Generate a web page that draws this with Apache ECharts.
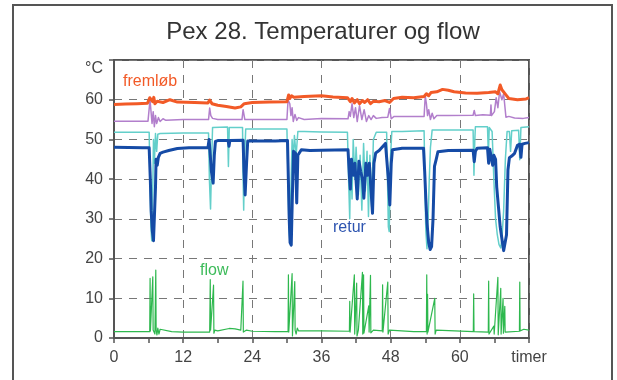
<!DOCTYPE html>
<html>
<head>
<meta charset="utf-8">
<script src="https://cdn.jsdelivr.net/npm/echarts@6/dist/echarts.min.js"></script>
<style>html,body{margin:0;padding:0;background:#fff;}#c{width:617px;height:380px;}</style>
</head>
<body>
<div id="c"></div>
<script>
// Time in hours ("timer"), values in °C or flow
const xTicks = [0, 12, 24, 36, 48, 60, 72];
const yTicks = [0, 10, 20, 30, 40, 50, 60, 70];

const fremlob = [[0,58.8],[2,58.9],[4,59],[5.8,59.1],[6.2,60.5],[6.5,60.8],[6.7,59.5],[6.9,60.6],[7.1,59],[7.5,59.6],[8.5,59.3],[9.7,60],[11,59.4],[14,59.3],[16.3,59.2],[16.6,59.9],[17,59],[18,58.6],[19.5,58.3],[21,57.9],[22,58.2],[22.6,59],[24,59.3],[27,59.4],[30,59.5],[30.3,61.2],[30.5,60.3],[30.8,61],[31.2,60.6],[33,60.8],[36,61],[38,60.7],[40.5,60.5],[41,59.5],[41.3,60.3],[41.7,59.2],[42.2,60],[42.6,59],[43.1,59.8],[43.5,59.3],[44,60],[44.5,59],[45,59.6],[46,59.5],[47,59.8],[47.8,59.3],[48.5,60.3],[50,60.6],[52,60.5],[53.8,60.8],[54.2,61.5],[54.6,61],[55,61.8],[56,62],[57,62.6],[58,62.4],[59,62],[61,61.7],[63,61.6],[65,61.8],[66.2,62],[66.6,61.5],[67,63.7],[67.3,62.5],[67.6,63],[68,61.2],[68.5,60.3],[70,60],[71.5,60.2],[72,60.5]];

const tempLilla = [[0,54.6],[5.9,54.6],[6.1,55],[6.25,60],[6.45,59.5],[6.6,54],[6.8,57],[7.0,53.2],[7.2,56],[7.4,54],[7.7,55.5],[8,54.5],[8.5,55.2],[9,54.8],[12,55],[16.4,55],[16.6,57.9],[16.8,56],[17.1,55.3],[18,55],[22.2,55],[22.4,57.5],[22.7,55],[24,55],[30,55],[30.2,60],[30.5,59],[30.7,56],[30.9,58],[31.1,54.5],[31.4,56.3],[31.7,54.8],[32,55.5],[33,55],[36,55.3],[40.6,55.2],[40.8,57],[41,55.8],[41.3,59],[41.6,55.5],[41.9,58],[42.2,54.5],[42.6,58.5],[43,55],[43.4,57.5],[43.8,54.5],[44.2,56],[44.6,55],[45,56],[45.5,55.3],[46.5,55.5],[47.5,55.6],[47.8,57.8],[48.1,55.2],[48.6,55.8],[50,55.8],[53.8,55.8],[54,61],[54.2,59],[54.4,56],[54.6,57.5],[54.9,55],[55.2,56.6],[55.5,55.2],[56,56],[58,56],[62.3,56.1],[62.5,57.3],[62.7,56],[64,56.2],[65.3,56.1],[65.4,58.7],[65.5,56],[66,57],[66.3,60.5],[66.6,58],[66.9,62],[67.3,60],[67.6,61.5],[68,55.6],[68.5,55.8],[69.5,55.4],[71,55.3],[72,55.5]];

const tempTurkis = [[0,51.8],[6.1,51.8],[6.25,40],[6.4,28],[6.55,24.5],[6.7,35],[6.85,50],[7.0,44],[7.2,51.5],[7.4,47],[7.6,51.3],[8,51.5],[12,51.6],[16.4,51.6],[16.55,40],[16.75,32.5],[16.95,45],[17.1,53],[19.7,53.1],[19.85,43.2],[20,53],[22.3,53],[22.4,40],[22.5,32.2],[22.65,45],[22.85,52.6],[24,52.6],[30,52.6],[30.2,40],[30.35,28],[30.5,24.7],[30.7,38],[30.9,50],[31.1,45],[31.3,51],[31.6,46],[31.9,52],[33,52],[36,51.9],[40.5,51.8],[40.7,40],[40.9,30],[41.05,45],[41.3,35],[41.5,50],[41.8,40],[42,48],[42.4,36],[42.7,46],[43,32.2],[43.3,49],[43.6,37],[43.9,47],[44.15,30.6],[44.4,46],[44.7,33],[45,50],[45.5,51.8],[47.3,51.8],[47.45,40],[47.6,28],[47.75,26.8],[47.95,45],[48.2,52],[50,52],[53.8,52.2],[53.95,38],[54.1,27],[54.3,22.5],[54.5,30],[54.7,40],[54.9,48],[55.2,52.4],[57,52.4],[62.3,52.4],[62.45,41],[62.6,50],[62.7,53.2],[64.8,53.2],[64.95,46],[65.1,53],[65.6,52],[65.9,40],[66.2,30],[66.5,26],[66.8,23.5],[67.1,22.7],[67.3,25],[67.6,32],[67.9,45],[68.2,52],[68.6,52],[68.8,47],[69,52.2],[70.2,52.3],[70.4,44.9],[70.6,53],[72,53.2]];

const retur = [[0,48],[5,47.9],[6.1,47.9],[6.3,40],[6.45,32],[6.65,27],[6.85,24.5],[7.05,24.3],[7.2,38],[7.3,45],[7.5,43.5],[7.7,45.5],[8,46.5],[8.5,46.8],[9.5,47.2],[11,47.7],[13,47.9],[16.3,47.9],[16.5,50],[16.7,46],[16.9,42],[17.2,39],[17.4,46],[17.6,49.5],[18,49.7],[19.8,49.7],[19.95,48.3],[20.1,49.7],[22.4,49.8],[22.55,42],[22.75,36],[23,44],[23.2,49.6],[24,49.6],[28,49.6],[30.1,49.7],[30.25,40],[30.4,30],[30.55,24],[30.75,23.4],[30.95,36],[31.15,47],[31.5,46.5],[31.7,34],[31.9,46],[32.5,47.4],[34,47.2],[36,47.3],[40.6,47.4],[40.85,40.6],[41.0,37.5],[41.2,45],[41.5,41],[41.8,44],[42.2,35],[42.5,44.5],[42.8,42],[43.1,40],[43.35,35.2],[43.7,44],[44.0,41],[44.3,44],[44.6,37],[44.85,31.4],[45.1,44],[45.4,46.6],[46,47.2],[47.1,49],[47.4,49.2],[47.6,40],[47.85,33.5],[48.1,44],[48.3,47.4],[50,47.8],[53.7,47.8],[53.9,42],[54.1,35],[54.3,29],[54.6,24],[54.85,22.3],[55.1,23],[55.35,30],[55.6,43.2],[55.9,45],[56.2,46.9],[58,47.2],[62.3,47.3],[62.5,44.4],[62.7,47],[63,47.8],[64.8,47.9],[65,44],[65.2,47.5],[65.5,47],[65.7,43.5],[65.9,46],[66.2,45],[66.4,38],[66.7,33],[67,28],[67.3,25],[67.6,22],[67.85,21.7],[68.1,26],[68.35,42.3],[68.6,45.4],[69,45.8],[69.5,46.5],[70,48.5],[70.4,48.8],[70.6,45.5],[70.8,48.8],[71.3,49],[72,49.2]];

const flow = [[0,1.6],[6.2,1.6],[6.26,15],[6.32,1.8],[6.73,15.4],[6.79,2],[7.1,1],[7.25,17.1],[7.31,2],[7.45,0.8],[7.6,2.5],[7.8,1],[8,2.2],[8.3,1.7],[10,1.6],[12,1.5],[16.6,1.5],[16.7,14.7],[16.76,2],[17.27,13.3],[17.33,1.2],[17.5,2],[18,1.8],[20,2.4],[21,2.3],[22,2],[22.32,1.8],[22.38,14.3],[22.44,1.5],[23,2],[24,1.7],[28,1.6],[30.2,1.6],[30.26,15.9],[30.32,1.5],[30.9,16.2],[30.96,0.5],[31.36,14.2],[31.42,2],[31.6,1],[31.8,2.5],[32,1.8],[36,1.8],[40.84,1.7],[40.9,9.2],[40.96,1.5],[41.7,15.9],[41.76,1],[42.1,13.8],[42.16,0.5],[42.4,2],[43.1,16.5],[43.16,1],[43.3,15.9],[43.36,1.2],[44.2,8.1],[44.26,1.5],[44.5,15.8],[44.56,1.3],[45,2],[46.54,1.8],[46.6,13.4],[46.66,1.5],[47.5,14.1],[47.56,1],[47.8,2],[48,1.7],[52,1.6],[54.2,1.6],[54.26,15.9],[54.32,1],[54.4,11],[54.46,1.5],[55.65,10],[55.71,1],[55.9,2],[56,1.7],[62.34,1.6],[62.4,11.1],[62.46,1.6],[64.94,1.5],[65,14.3],[65.06,1],[65.9,3],[65.96,1],[66.6,15.3],[66.66,0.8],[67.1,12.5],[67.16,1],[67.5,10],[67.56,1.2],[67.8,8],[67.86,1.5],[68.2,1.7],[70.34,1.7],[70.4,14.1],[70.46,1.8],[71.1,2.2],[72,2]];

const FONT = '"Liberation Sans", Arial, sans-serif';
const chart = echarts.init(document.getElementById('c'), null, {renderer: 'canvas'});

function lineSeries(name, data, color, width, z) {
  return {
    name, type: 'line', data, showSymbol: false, symbol: 'none',
    lineStyle: {color, width, join: 'round'}, z, animation: false
  };
}

chart.setOption({
  animation: false,
  backgroundColor: '#fff',
  grid: {
    left: 114, right: 88, top: 60, bottom: 42,
    show: true, borderColor: '#555', borderWidth: 2,
    containLabel: false, outerBoundsMode: 'none'
  },
  xAxis: {
    type: 'value', min: xTicks[0], max: xTicks[xTicks.length - 1], interval: 12,
    axisLine: {show: true, lineStyle: {color: '#555', width: 2}},
    axisTick: {show: true, length: 5, lineStyle: {color: '#555', width: 1.5}},
    minorTick: {show: true, splitNumber: 2, length: 5, lineStyle: {color: '#555', width: 1.5}},
    splitLine: {show: true, lineStyle: {color: '#777', width: 1, type: [8, 7]}},
    axisLabel: {
      fontSize: 16, color: '#444', fontFamily: FONT, margin: 12,
      showMaxLabel: true, showMinLabel: true,
      formatter: v => (v === 72 ? 'timer' : String(v))
    }
  },
  yAxis: {
    type: 'value', min: yTicks[0], max: yTicks[yTicks.length - 1], interval: 10,
    axisLine: {show: true, lineStyle: {color: '#555', width: 2}},
    axisTick: {show: true, length: 5, lineStyle: {color: '#555', width: 1.5}},
    splitLine: {show: true, lineStyle: {color: '#777', width: 1, type: [8, 7]}},
    axisLabel: {
      fontSize: 16, color: '#444', fontFamily: FONT, margin: 11,
      formatter: v => (v === 70 ? '' : String(v))
    }
  },
  series: [
    lineSeries('flow', flow, '#2eb84e', 1.2, 3),
    lineSeries('lilla', tempLilla, '#b27fcc', 1.5, 4),
    lineSeries('turkis', tempTurkis, '#63cfca', 1.5, 5),
    lineSeries('retur', retur, '#154ba6', 3, 6),
    lineSeries('fremløb', fremlob, '#f25a27', 3, 7)
  ],
  graphic: [
    {type: 'rect', shape: {x: 13, y: 5, width: 599, height: 500}, style: {fill: 'none', stroke: '#555', lineWidth: 2}, z: 100},
    {type: 'text', x: 323, y: 32, style: {text: 'Pex 28. Temperaturer og flow', font: '24px ' + FONT, fill: '#333', textAlign: 'center', textVerticalAlign: 'middle'}},
    {type: 'text', x: 103, y: 69, style: {text: '°C', font: '16px ' + FONT, fill: '#444', textAlign: 'right', textVerticalAlign: 'middle'}},
    {type: 'text', x: 123, y: 82, style: {text: 'fremløb', font: '16px ' + FONT, fill: '#f25a27', textAlign: 'left', textVerticalAlign: 'middle'}, z: 50},
    {type: 'text', x: 333, y: 228, style: {text: 'retur', font: '16px ' + FONT, fill: '#2d54b0', textAlign: 'left', textVerticalAlign: 'middle'}, z: 50},
    {type: 'text', x: 200, y: 271, style: {text: 'flow', font: '16px ' + FONT, fill: '#3dbb5a', textAlign: 'left', textVerticalAlign: 'middle'}, z: 50}
  ]
});
</script>
</body>
</html>
